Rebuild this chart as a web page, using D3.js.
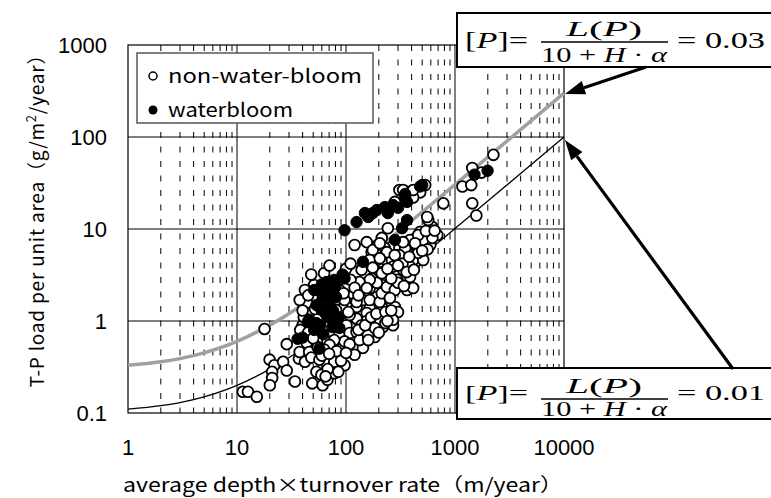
<!DOCTYPE html>
<html lang="ja">
<head>
<meta charset="UTF-8">
<title>T-P load vs depth x turnover</title>
<script src="https://cdn.jsdelivr.net/npm/d3@7"></script>
<style>
  body { margin: 0; background: #fff; }
  svg { display: block; }
  .tick { font-family: "Liberation Sans", Arial, sans-serif; font-size: 22px; fill: #000; }
  .title { font-family: "Noto Sans CJK JP", sans-serif; font-size: 19px; fill: #000; }
  .eq { font-family: "Liberation Serif", "Times New Roman", serif; fill: #000; }
</style>
</head>
<body>
<svg width="771" height="498"></svg>
<script>
const xTicks = [1, 10, 100, 1000, 10000];
const yTicks = [0.1, 1, 10, 100, 1000];

// model lines
const curveX    = [1, 2, 4, 10, 20, 40, 100, 200, 400, 1000, 2000, 4000, 10000];
const curveHigh = [0.33, 0.36, 0.42, 0.6, 0.9, 1.5, 3.3, 6.3, 12.3, 30.3, 60.3, 120.3, 300.3];
const curveLow  = [0.11, 0.12, 0.14, 0.2, 0.3, 0.5, 1.1, 2.1, 4.1, 10.1, 20.1, 40.1, 100.1];

// [x, y] pairs
const nonBloom = [
  [11.3,0.17],[12.6,0.17],[15.2,0.15],[17.9,0.82],[19.9,0.38],[22,0.33],[21,0.28],[21,0.24],[20,0.20],
  [26.5,0.36],[28.6,0.29],[28.6,0.56],[34,0.22],[37,0.39],[37.6,0.46],[43.6,0.58],[42,0.36],[46,0.46],
  [49,0.21],[53.5,0.28],[61,0.20],[59.5,0.26],[67.6,0.23],[75,0.32],[78,0.27],[66,0.35],[75,0.43],
  [55,0.52],[48,0.40],[57,0.38],[67.6,0.59],[93,0.51],[112,0.67],[143,0.51],[87,0.70],[101,0.90],
  [108,0.74],[125,0.76],[133,0.98],[143,1.03],[172,0.86],[184,0.67],[218,0.86],[270,0.90],[253,1.08],
  [281,1.42],[192,1.03],[242,1.10],[165,1.38],[213,1.42],[300,1.25],[125,1.42],[93,1.38],[115,1.78],
  [143,1.69],[192,1.82],[165,2.28],[213,2.46],[253,2.17],[125,2.6],[139,3.6],[172,2.9],[227,3.3],
  [281,3.3],[387,3.0],[363,2.17],[413,2.28],[204,4.4],[242,4.3],[309,4.8],[431,4.3],[172,5.6],
  [120,6.7],[196,6.7],[264,6.4],[204,5.5],[227,6.2],[309,6.2],[413,4.6],[511,4.6],[264,4.6],[192,4.6],
  [349,6.2],[450,6.4],[593,6.7],[511,7.6],[387,7.6],[688,8.6],[479,9.3],[618,10.5],[568,12.5],
  [213,8.0],[155,7.2],[176,5.9],[237,5.6],[242,10.2],[155,1.22],[165,1.69],[204,1.61],[213,2.0],
  [237,2.34],[192,2.6],[165,2.8],[213,3.3],[270,3.9],[133,2.65],[112,2.0],[125,1.61],[155,2.28],
  [165,4.6],[204,4.8],[176,3.8],[460,5.5],[387,3.9],[83,1.08],[81,1.32],[101,2.34],[63,3.3],[51,2.46],
  [49,1.82],[44,1.57],[46,1.22],[40,0.90],[70.5,4.0],[41,1.1],[270,1.03],[204,1.03],[155,1.0],
  [125,1.06],[97,0.60],[37.6,1.69],[42,2.17],[48,3.2],[87,2.17],[97,1.69],[108,1.16],[78,0.62],
  [70.5,0.55],[63,0.49],[120,0.43],[108,0.56],[133,0.62],[159,0.70],[184,0.84],[139,0.90],[87,0.43],
  [78,0.36],[97,0.33],[296,2.8],[334,3.6],[281,2.17],[253,1.78],[204,7.0],[309,5.2],[460,8.6],[334,7.2],
  [130,0.8],[150,0.9],[170,1.1],[190,1.2],[230,1.25],[260,1.3],[230,0.95],[160,0.62],[200,0.75],[240,1.0],
  [330,4.2],[360,3.4],[300,2.6],[340,2.4],[260,2.9],[420,3.6],[380,5.0],[280,5.2],[240,3.7],[300,4.0],
  [560,6.0],[620,8.0],[540,9.5],[430,7.0],[500,5.8],[650,9.6],
  [68,0.30],[85,0.28],[90,0.37],[82,0.47],[100,0.45],[60,0.42],[70,0.44],[65,0.25],
  [38,0.8],[45,0.75],[50,0.65],[40,1.3],[45,1.9],[52,1.35],
  [100,3.7],[110,2.8],[120,2.3],[130,1.9],[110,4.2],[95,2.0],[105,1.25],
  [309,26.5],[387,25],[479,25],[413,22],[281,19.7],[533,30],[334,26.5],[782,19],[556,13.5],[413,26.5],
  [2250,64],[1440,46],[1750,41],[1170,29],[1410,30],[1440,19],[1570,14]
];

const waterbloom = [
  [36,0.64],[57,0.50],[46,1.03],[51,0.80],[53.5,1.49],[57,2.17],[63,2.17],[66,2.65],[78,2.8],
  [70.5,2.65],[97,2.9],[67.6,1.42],[67.6,1.10],[75,0.86],[87,0.84],[70.5,1.82],[81,1.82],[59.5,1.32],
  [73.5,1.08],[70.5,1.57],[44.6,0.98],[53.5,0.95],[60,2.5],[51,2.17],[63,1.32],[93,3.2],[143,4.4],
  [62,1.8],[72,2.2],[80,2.4],[65,1.2],[58,0.9],[76,1.3],[85,1.1],[62,0.72],[40,0.66],
  [97,9.7],[125,11.9],[149,14.9],[176,14.9],[192,16.1],[227,17.3],[242,14.9],[270,18.2],[300,17],
  [349,22.3],[349,24],[363,19.7],[500,30],[479,29],[281,7.6],[363,12.5],[327,10.2],[160,13.5],
  [1510,39],[1990,43]
];

const svg = d3.select("svg");
const x = d3.scaleLog().domain([1, 10000]).range([128, 564]);
const y = d3.scaleLog().domain([0.1, 1000]).range([413, 45]);

// minor vertical grid (2..9 in each decade), dashed
const minorX = [];
xTicks.slice(0, -1).forEach(d => { for (let k = 2; k <= 9; k++) minorX.push(d * k); });

svg.append("g").selectAll("line").data(minorX).join("line")
  .attr("x1", d => x(d)).attr("x2", d => x(d))
  .attr("y1", y(1000)).attr("y2", y(0.1))
  .attr("stroke", "#000").attr("stroke-width", 1)
  .attr("stroke-dasharray", "6,8.5");

// major grid
svg.append("g").selectAll("line").data(xTicks.slice(1, -1)).join("line")
  .attr("x1", d => x(d)).attr("x2", d => x(d))
  .attr("y1", y(1000)).attr("y2", y(0.1))
  .attr("stroke", "#000").attr("stroke-width", 1);
svg.append("g").selectAll("line").data(yTicks.slice(1, -1)).join("line")
  .attr("x1", x(1)).attr("x2", x(10000))
  .attr("y1", d => y(d)).attr("y2", d => y(d))
  .attr("stroke", "#000").attr("stroke-width", 1);

// plot border
svg.append("rect")
  .attr("x", x(1)).attr("y", y(1000))
  .attr("width", x(10000) - x(1)).attr("height", y(0.1) - y(1000))
  .attr("fill", "none").attr("stroke", "#000").attr("stroke-width", 1.2);

// tick labels
svg.append("g").selectAll("text").data(yTicks).join("text")
  .attr("class", "tick")
  .attr("x", 107).attr("y", d => y(d) + 8)
  .attr("text-anchor", "end")
  .text(d => d);
svg.append("g").selectAll("text").data(xTicks).join("text")
  .attr("class", "tick")
  .attr("x", d => x(d)).attr("y", 455)
  .attr("text-anchor", "middle")
  .text(d => d);

// model curves
const line = d3.line().x(d => x(d[0])).y(d => y(d[1])).curve(d3.curveMonotoneX);
svg.append("path")
  .datum(curveX.map((v, i) => [v, curveHigh[i]]))
  .attr("d", line).attr("fill", "none")
  .attr("stroke", "#a0a0a0").attr("stroke-width", 3.5);
svg.append("path")
  .datum(curveX.map((v, i) => [v, curveLow[i]]))
  .attr("d", line).attr("fill", "none")
  .attr("stroke", "#000").attr("stroke-width", 1.3);

// points
svg.append("g").selectAll("circle").data(nonBloom).join("circle")
  .attr("cx", d => x(d[0])).attr("cy", d => y(d[1])).attr("r", 5.4)
  .attr("fill", "#fff").attr("stroke", "#000").attr("stroke-width", 1.8);
svg.append("g").selectAll("circle").data(waterbloom).join("circle")
  .attr("cx", d => x(d[0])).attr("cy", d => y(d[1])).attr("r", 5.7)
  .attr("fill", "#000").attr("stroke", "#000").attr("stroke-width", 1);

// legend
const leg = svg.append("g");
leg.append("rect").attr("x", 137).attr("y", 53).attr("width", 236).attr("height", 70)
  .attr("fill", "#fff").attr("stroke", "#555").attr("stroke-width", 1.5);
leg.append("circle").attr("cx", 153).attr("cy", 76).attr("r", 4)
  .attr("fill", "#fff").attr("stroke", "#000").attr("stroke-width", 1.5);
leg.append("circle").attr("cx", 153).attr("cy", 110).attr("r", 4.5).attr("fill", "#000");
leg.append("text").attr("class", "title").attr("x", 168).attr("y", 83)
  .attr("font-size", 21).attr("textLength", 194).attr("lengthAdjust", "spacingAndGlyphs")
  .text("non-water-bloom");
leg.append("text").attr("class", "title").attr("x", 168).attr("y", 117)
  .attr("font-size", 21).attr("textLength", 125).attr("lengthAdjust", "spacingAndGlyphs")
  .text("waterbloom");

// axis titles
svg.append("text").attr("class", "title")
  .attr("x", 343).attr("y", 492).attr("text-anchor", "middle")
  .attr("textLength", 440).attr("lengthAdjust", "spacingAndGlyphs")
  .text("average depth×turnover rate（m/year）");

const yt = svg.append("text").attr("class", "title")
  .attr("font-size", 20)
  .attr("transform", "translate(44,216) rotate(-90)")
  .attr("text-anchor", "middle")
  .attr("letter-spacing", 0.8);
yt.append("tspan").text("T-P load per unit area（g/m");
yt.append("tspan").attr("font-size", 13).attr("dy", -8).text("2");
yt.append("tspan").attr("dy", 8).text("/year）");

// equation boxes
function equation(top, h, val, s) {
  const g = svg.append("g");
  g.append("rect").attr("x", 457).attr("y", top).attr("width", 330).attr("height", h)
    .attr("fill", "#fff").attr("stroke", "#000").attr("stroke-width", 2);
  const mid = top + s.bar;
  const t1 = g.append("text").attr("class", "eq").attr("font-size", s.fs + 2)
    .attr("x", 465).attr("y", mid + s.base)
    .attr("textLength", 63).attr("lengthAdjust", "spacingAndGlyphs");
  t1.append("tspan").text("[");
  t1.append("tspan").attr("font-style", "italic").text("P");
  t1.append("tspan").text("]=");
  const t2 = g.append("text").attr("class", "eq").attr("font-size", s.fs)
    .attr("x", 604).attr("y", mid - s.num).attr("text-anchor", "middle")
    .attr("textLength", 76).attr("lengthAdjust", "spacingAndGlyphs");
  t2.append("tspan").attr("font-style", "italic").text("L");
  t2.append("tspan").text("(");
  t2.append("tspan").attr("font-style", "italic").text("P");
  t2.append("tspan").text(")");
  g.append("line").attr("x1", 541).attr("x2", 668).attr("y1", mid).attr("y2", mid)
    .attr("stroke", "#000").attr("stroke-width", 1.3);
  const t3 = g.append("text").attr("class", "eq").attr("font-size", s.fs)
    .attr("x", 604).attr("y", mid + s.den).attr("text-anchor", "middle")
    .attr("textLength", 126).attr("lengthAdjust", "spacingAndGlyphs");
  t3.append("tspan").text("10 + ");
  t3.append("tspan").attr("font-style", "italic").text("H");
  t3.append("tspan").text(" · ");
  t3.append("tspan").attr("font-style", "italic").text("α");
  g.append("text").attr("class", "eq").attr("font-size", s.fs + 1)
    .attr("x", 677).attr("y", mid + s.base)
    .attr("textLength", 88).attr("lengthAdjust", "spacingAndGlyphs")
    .text("= " + val);
}
equation(13, 54, "0.03", { fs: 22, bar: 29, base: 6, num: 6, den: 20 });
equation(368, 51, "0.01", { fs: 20, bar: 31, base: 1, num: 6, den: 17 });

// arrows
function arrow(x1, y1, x2, y2) {
  const a = Math.atan2(y2 - y1, x2 - x1), L = 20, W = 7;
  const bx = x2 - L * Math.cos(a), by = y2 - L * Math.sin(a);
  svg.append("line").attr("x1", x1).attr("y1", y1).attr("x2", bx).attr("y2", by)
    .attr("stroke", "#000").attr("stroke-width", 3.2);
  svg.append("path")
    .attr("d", `M${x2},${y2}L${bx + W * Math.sin(a)},${by - W * Math.cos(a)}L${bx - W * Math.sin(a)},${by + W * Math.cos(a)}Z`)
    .attr("fill", "#000");
}
arrow(646, 67, x(10000) + 1, y(300.3) + 1);
arrow(733, 369, x(10000) + 1, y(100.1) + 3);
</script>
</body>
</html>
